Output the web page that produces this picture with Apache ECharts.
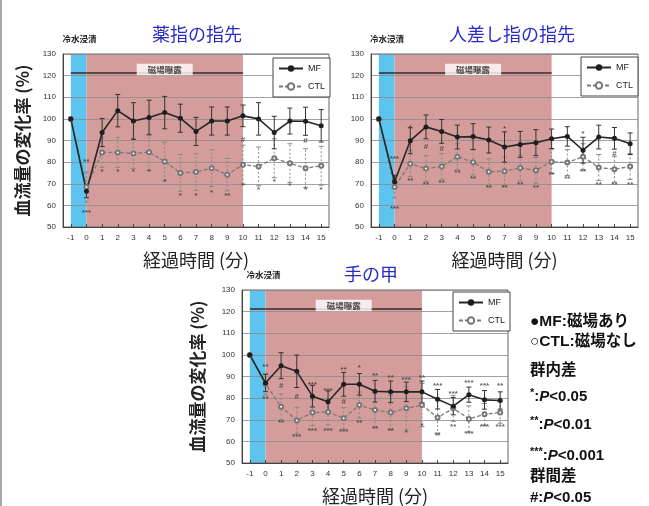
<!DOCTYPE html>
<html><head><meta charset="utf-8">
<script src="https://cdn.jsdelivr.net/npm/echarts@6/dist/echarts.min.js"></script>
<style>html,body{margin:0;padding:0;background:#fff}#c{width:649px;height:506px}</style>
</head><body><div id="c"></div>
<script>
// ---- data ----
const categories = ['-1','0','1','2','3','4','5','6','7','8','9','10','11','12','13','14','15'];
const panelTitles = ['薬指の指先','人差し指の指先','手の甲'];

const mf1 = [100, 66.5, 93.7, 103.8, 99, 100.6, 102.9, 100.3, 94.2, 99, 99, 101.4, 100, 93.7, 99, 98.9, 96.8];
const ctl1 = [100, 68.5, 84.5, 84.5, 84, 84.6, 80.3, 75, 75.4, 77.2, 74.2, 78.8, 78, 81.8, 79.5, 77.2, 78.3];
const mfErr1 = [0, 3, 6.5, 7.5, 8.5, 8, 7.5, 6.5, 6.5, 6.5, 6.5, 5, 7.5, 7.5, 6, 6.5, 7.5];
const ctlErr1 = [0, 7, 7, 7, 7, 8.5, 9, 8.5, 8.5, 8.5, 7.5, 9, 9, 9, 9, 9, 9];
const sig1 = [[0,56.5,'***'],[-0.1,80,'**'],[1,75.7,'*'],[2,75.7,'*'],[3,75.7,'*'],[4,75.7,'*'],[5,71,'*'],[6,64.5,'*'],[7,64.5,'*'],[8,66,'*'],[9,64.5,'**'],[10,69,'*'],[11,67,'*'],[12,71,'*'],[13,69,'*'],[14,67,'*'],[15,67,'*'],[10,90.5,'#'],[14,90,'#']];

const mf2 = [100, 70.9, 89.9, 96.3, 94.2, 91.6, 91.8, 90.2, 87, 88.2, 89, 90.8, 91.9, 85.5, 91.6, 91, 88.5];
const ctl2 = [100, 68.5, 79.3, 77, 78, 82.5, 80, 75.5, 75.8, 77.3, 76.2, 80.2, 79.8, 82.5, 77.5, 76.7, 78];
const mfErr2 = [0, 3, 6, 5.5, 5.5, 5.5, 6, 6, 7, 6, 6, 4.5, 4.5, 6, 5.5, 5, 5];
const ctlErr2 = [0, 5, 6, 6, 6, 6, 6, 6, 6.5, 6, 6, 5.5, 6, 6, 6, 6, 6];
const sig2 = [[0.2,81.6,'***'],[0.2,58.4,'***'],[1,95.8,'*'],[7,95.5,'*'],[12,93,'*'],[2,87,'#'],[3,86.3,'#'],[14,83.9,'#'],[1,71.4,'**'],[2,69.6,'**'],[3,70.3,'**'],[4,75.2,'**'],[5,72.3,'**'],[6,68,'**'],[7,68,'**'],[8,69.6,'**'],[9,68,'**'],[10,74.2,'**'],[11,72.3,'**'],[12,75.4,'**'],[13,69.6,'**'],[14,69.6,'**'],[15,69.6,'**']];

const mf3 = [100, 87, 95, 92.4, 80.9, 78.3, 86.4, 86.4, 83.2, 82.9, 82.9, 82.9, 79.5, 76.3, 81.6, 79.2, 78.9];
const ctl3 = [100, 86.5, 76, 69.7, 73.3, 73.6, 70.7, 76.8, 74.5, 73.3, 75.3, 76.8, 71, 75.3, 70.4, 72.5, 73.4];
const mfErr3 = [0, 4, 6, 7.5, 5, 5, 5.5, 5, 5, 5, 4.5, 5, 4.5, 4, 3.5, 4.3, 4];
const ctlErr3 = [0, 5, 6, 6, 6, 6, 5, 6, 8, 8, 10, 10, 8, 6, 6, 5, 5];
const sig3 = [[0,94.5,'**'],[0,79.8,'**'],[1,85.9,'#'],[2,80.6,'#'],[5,78.3,'#'],[3,86.2,'***'],[4,83.5,'***'],[5,93,'**'],[6,93.9,'*'],[7,90.1,'**'],[8,89.4,'**'],[9,88.5,'***'],[10,89.4,'**'],[11,85.9,'***'],[12,81.8,'***'],[13,87,'***'],[14,85.6,'***'],[15,85.6,'**'],
  [1,68.4,'**'],[2,61.9,'***'],[3,65.1,'***'],[4,65.1,'***'],[5,64.6,'***'],[6,68.6,'**'],[7,65.7,'**'],[8,65.1,'**'],[9,63.9,'*'],[10,67.2,'*'],[11,63.1,'**'],[12,66.9,'**'],[13,63.6,'***'],[14,66.6,'***'],[15,66.6,'***']];

const coldX = [-0.45, -0.48, -0.38];

// ---- layout ----
const grids = [
  {left: 63, top: 54, width: 266, height: 173},
  {left: 371, top: 54, width: 267, height: 173},
  {left: 242, top: 290, width: 266, height: 173}
];
const legendPos = [{left: 273, top: 58}, {left: 581, top: 57}, {left: 453, top: 292}];
const titlePos = [[197, 34], [512, 34], [371, 274]];
const panels = [
  {mf: mf1, ctl: ctl1, mfErr: mfErr1, ctlErr: ctlErr1, sig: sig1, yName: true},
  {mf: mf2, ctl: ctl2, mfErr: mfErr2, ctlErr: ctlErr2, sig: sig2, yName: false},
  {mf: mf3, ctl: ctl3, mfErr: mfErr3, ctlErr: ctlErr3, sig: sig3, yName: true}
];

const JP = "'Noto Sans CJK JP', sans-serif";
const LAT = "'Liberation Sans', Arial, sans-serif";
const BLUE = '#5cc4ee', PINK = '#d59c9c';

const xIdx = x => x + 1;

const option = {
  animation: false,
  backgroundColor: '#fff',
  grid: [], xAxis: [], yAxis: [], legend: [], series: [], graphic: []
};

function errRender(color, dashed) {
  return function (params, api) {
    const x = api.value(0), lo = api.value(1), hi = api.value(2);
    const a = api.coord([x, lo]), b = api.coord([x, hi]);
    const st = {stroke: color, lineWidth: 1, lineDash: dashed ? [2, 2] : null};
    return {type: 'group', children: [
      {type: 'line', shape: {x1: a[0], y1: a[1], x2: b[0], y2: b[1]}, style: st},
      {type: 'line', shape: {x1: a[0]-2.5, y1: a[1], x2: a[0]+2.5, y2: a[1]}, style: {stroke: color, lineWidth: 1}},
      {type: 'line', shape: {x1: b[0]-2.5, y1: b[1], x2: b[0]+2.5, y2: b[1]}, style: {stroke: color, lineWidth: 1}}
    ]};
  };
}

panels.forEach((p, i) => {
  option.grid.push(Object.assign({show: true, borderColor: '#666', borderWidth: 1, backgroundColor: 'transparent', z: 2}, grids[i]));
  option.xAxis.push({
    type: 'category', gridIndex: i, data: categories, boundaryGap: true, z: 2,
    axisLine: {show: true, lineStyle: {color: '#444', width: 1}},
    axisTick: {show: true, inside: true, length: 3, alignWithLabel: true, lineStyle: {color: '#444'}},
    axisLabel: {interval: 0, fontSize: 8, color: '#333', fontFamily: LAT, margin: 7},
    name: '経過時間 (分)', nameLocation: 'middle', nameGap: 24,
    nameTextStyle: {fontSize: 18, color: '#222', fontFamily: JP}
  });
  option.yAxis.push({
    type: 'value', gridIndex: i, min: 50, max: 130, interval: 10, z: 2,
    axisLine: {show: true, lineStyle: {color: '#444'}},
    axisTick: {show: false},
    axisLabel: {fontSize: 8, color: '#333', fontFamily: LAT, margin: 7},
    splitLine: {show: true, lineStyle: {color: '#8a8a8a', width: 0.8}},
    name: p.yName ? '血流量の変化率 (%)' : '', nameLocation: 'middle', nameRotate: 90, nameGap: i === 0 ? 32 : 36,
    nameTextStyle: {fontSize: 17, fontWeight: 'bold', color: '#222', fontFamily: JP}
  });
  option.legend.push(Object.assign({
    orient: 'vertical', data: ['MF', 'CTL'], itemWidth: 24, itemHeight: 8, itemGap: 9,
    padding: [6, 5, 6, 5], borderColor: '#444', borderWidth: 1, backgroundColor: '#fff',
    textStyle: {fontSize: 9, color: '#222', fontFamily: LAT}, selectedMode: false, z: 6
  }, legendPos[i]));

  // background bands
  option.series.push({
    type: 'line', xAxisIndex: i, yAxisIndex: i, data: [], z: 1, silent: true,
    markArea: {silent: true, data: [
      [{coord: [xIdx(-1), 50], itemStyle: {color: BLUE, opacity: 1}}, {coord: [xIdx(0), 130]}],
      [{coord: [xIdx(0), 50], itemStyle: {color: PINK, opacity: 1}}, {coord: [xIdx(10), 130]}]
    ]}
  });
  // annotation lines
  option.series.push({
    type: 'line', xAxisIndex: i, yAxisIndex: i, data: [], z: 4, silent: true, clip: false,
    markLine: {silent: true, symbol: ['none', 'none'], label: {show: false},
      lineStyle: {color: '#3a2a2a', width: 1.5, type: 'solid'},
      data: [
        [{coord: [xIdx(0), 121.5]}, {coord: [xIdx(10), 121.5]}],
        [{coord: [xIdx(-1), 121.5]}, {coord: [xIdx(0), 121.5]}],
        [{coord: [xIdx(coldX[i]), 134]}, {coord: [xIdx(coldX[i]), 121.5]}]
      ]}
  });
  // exposure label
  option.series.push({
    type: 'scatter', xAxisIndex: i, yAxisIndex: i, z: 5, silent: true, symbolSize: 0,
    data: [[xIdx(5), 122.8]],
    label: {show: true, position: 'inside', formatter: '磁場曝露', backgroundColor: '#fff', padding: [2, 11, 1, 11],
      fontSize: 8.5, fontWeight: 'bold', color: '#222', fontFamily: JP}
  });
  // error bars
  option.series.push({
    type: 'custom', xAxisIndex: i, yAxisIndex: i, z: 3, silent: true,
    renderItem: errRender('#888', true), encode: {x: 0, y: [1, 2]},
    data: p.ctl.map((v, k) => [k, v - p.ctlErr[k], v + p.ctlErr[k]]).filter((d, k) => p.ctlErr[k] > 0)
  });
  option.series.push({
    type: 'custom', xAxisIndex: i, yAxisIndex: i, z: 3, silent: true,
    renderItem: errRender('#333', false), encode: {x: 0, y: [1, 2]},
    data: p.mf.map((v, k) => [k, v - p.mfErr[k], v + p.mfErr[k]]).filter((d, k) => p.mfErr[k] > 0)
  });
  // lines
  option.series.push({
    name: 'CTL', type: 'line', xAxisIndex: i, yAxisIndex: i, z: 3, data: p.ctl,
    symbol: 'emptyCircle', symbolSize: 4, itemStyle: {color: '#777', borderWidth: 1},
    lineStyle: {color: '#7a7a7a', width: 1.3, type: [4, 2]}
  });
  option.series.push({
    name: 'MF', type: 'line', xAxisIndex: i, yAxisIndex: i, z: 3, data: p.mf,
    symbol: 'circle', symbolSize: 5, itemStyle: {color: '#1e1e1e'},
    lineStyle: {color: '#262626', width: 1.6}
  });
  // significance marks
  option.series.push({
    type: 'scatter', xAxisIndex: i, yAxisIndex: i, z: 4, silent: true, symbolSize: 0,
    data: p.sig.map(s => [xIdx(s[0]), s[1], s[2]]),
    label: {show: true, position: 'inside', formatter: q => q.data[2], fontSize: 8, fontWeight: 'bold', color: '#3a3a3a', fontFamily: LAT}
  });

  // titles & cold labels
  const g = grids[i];
  option.graphic.push({type: 'text', x: titlePos[i][0], y: titlePos[i][1], style: {text: panelTitles[i], fill: '#2a2ac8', font: '18px ' + JP, textAlign: 'center', textVerticalAlign: 'middle'}});
  const band = g.width / categories.length;
  const lx = g.left + band * (xIdx(coldX[i]) + 0.5);
  option.graphic.push({type: 'text', x: lx + (i === 2 ? 4 : 0), y: g.top - 15, style: {text: '冷水浸漬', fill: '#222', font: 'bold 8.5px ' + JP, textAlign: 'center', textVerticalAlign: 'middle'}});
});

// side notes
const notes = [
  {y: 321, text: '{m|●MF:磁場あり}'},
  {y: 341, text: '{m|○CTL:磁場なし}'},
  {y: 370, text: '{m|群内差}'},
  {y: 396, text: '{s|*}{t|:}{i|P}{t|<0.05}'},
  {y: 424, text: '{s|**}{t|:}{i|P}{t|<0.01}'},
  {y: 455, text: '{s|***}{t|:}{i|P}{t|<0.001}'},
  {y: 476, text: '{m|群間差}'},
  {y: 497, text: '{t|#:}{i|P}{t|<0.05}'}
];
const rich = {
  m: {fontSize: 15.5, fontWeight: 'bold', fill: '#111', lineHeight: 17, verticalAlign: 'bottom', fontFamily: LAT + ',' + JP},
  s: {fontSize: 11, fontWeight: 'bold', fill: '#111', verticalAlign: 'top', lineHeight: 17, fontFamily: LAT},
  t: {fontSize: 15, fontWeight: 'bold', fill: '#111', verticalAlign: 'bottom', lineHeight: 17, fontFamily: LAT},
  i: {fontSize: 15, fontWeight: 'bold', fontStyle: 'italic', fill: '#111', verticalAlign: 'bottom', lineHeight: 17, fontFamily: LAT}
};
notes.forEach(n => {
  option.graphic.push({type: 'text', x: 530, y: n.y, style: {text: n.text, rich: rich, fill: '#111', textVerticalAlign: 'middle'}});
});
option.graphic.push({type: 'rect', shape: {x: 0, y: 0, width: 2, height: 506}, style: {fill: '#aaa'}});

const chart = echarts.init(document.getElementById('c'));
chart.setOption(option);
</script></body></html>
